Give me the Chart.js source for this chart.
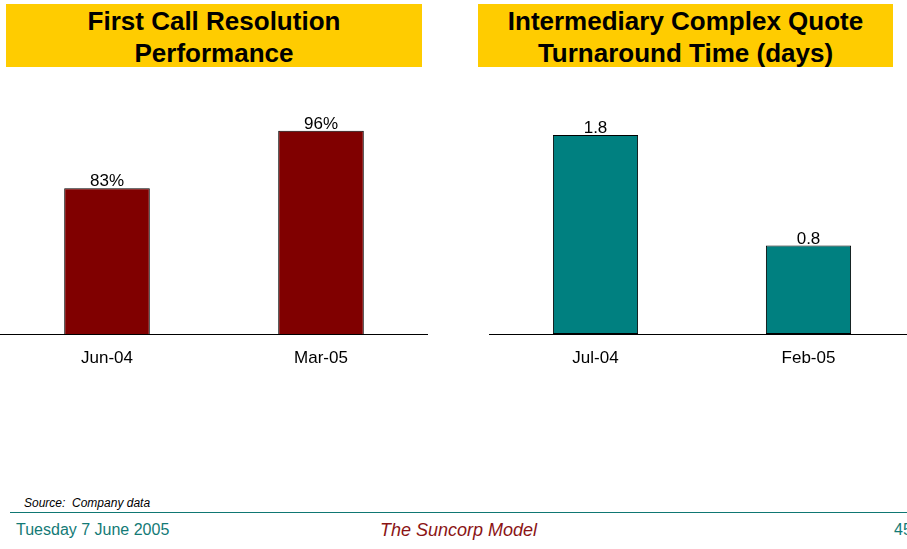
<!DOCTYPE html>
<html>
<head>
<meta charset="utf-8">
<script src="https://cdn.jsdelivr.net/npm/chart.js@4"></script>
<style>
  html, body { margin: 0; padding: 0; width: 907px; height: 549px; overflow: hidden; background: #fff; font-family: "Liberation Sans", Arial, sans-serif; }
  .title { position: absolute; top: 4px; height: 63px; background: #FFCC00; color: #000; font-weight: bold; font-size: 26px; line-height: 32px; text-align: center; padding-top: 1px; box-sizing: border-box; }
  canvas { position: absolute; }
  .txt { position: absolute; white-space: nowrap; }
</style>
</head>
<body>
<div class="title" style="left:6px;width:416px;">First Call Resolution<br>Performance</div>
<div class="title" style="left:478px;width:415px;">Intermediary Complex Quote<br>Turnaround Time (days)</div>

<canvas id="c1" width="428" height="295" style="left:0px;top:100px;"></canvas>
<canvas id="c2" width="426" height="295" style="left:489px;top:100px;"></canvas>

<div class="txt" style="left:24px;top:496px;font-size:12px;font-style:italic;color:#000;">Source:&nbsp; Company data</div>
<div style="position:absolute;left:10px;top:512px;width:897px;height:1px;background:#0f7773;"></div>
<div class="txt" style="left:16px;top:521px;font-size:16px;color:#137a76;">Tuesday 7 June 2005</div>
<div class="txt" style="left:380px;top:520px;font-size:18px;font-style:italic;color:#8b1414;">The Suncorp Model</div>
<div class="txt" style="left:894px;top:521px;font-size:16px;color:#137a76;">45</div>

<script>
// ---- data ----
const fcrCategories = ["Jun-04", "Mar-05"];
const fcrValues = [83, 96];
const fcrLabels = ["83%", "96%"];

const quoteCategories = ["Jul-04", "Feb-05"];
const quoteValues = [1.8, 0.8];
const quoteLabels = ["1.8", "0.8"];

const valueLabelPlugin = {
  id: 'valueLabels',
  afterDatasetsDraw(chart, args, opts) {
    const ctx = chart.ctx;
    const meta = chart.getDatasetMeta(0);
    ctx.save();
    ctx.font = '17px "Liberation Sans", Arial, sans-serif';
    ctx.fillStyle = '#000';
    ctx.textAlign = 'center';
    ctx.textBaseline = 'alphabetic';
    meta.data.forEach((bar, i) => {
      ctx.fillText(opts.labels[i], bar.x, bar.y - 2);
    });
    ctx.restore();
  }
};

function makeChart(id, cats, vals, labels, color, yMin, yMax) {
  return new Chart(document.getElementById(id), {
    type: 'bar',
    data: {
      labels: cats,
      datasets: [{
        data: vals,
        backgroundColor: color,
        borderColor: '#000',
        borderWidth: 1,
        borderSkipped: false,
        barPercentage: 0.4,
        categoryPercentage: 1.0
      }]
    },
    options: {
      responsive: false,
      animation: false,
      layout: { padding: { top: 13, bottom: 12.6, left: 0, right: 0 } },
      plugins: {
        legend: { display: false },
        tooltip: { enabled: false },
        valueLabels: { labels: labels }
      },
      scales: {
        x: {
          grid: { display: false, drawTicks: false },
          border: { display: true, color: '#000', width: 1 },
          ticks: { color: '#000', font: { family: '"Liberation Sans", Arial, sans-serif', size: 17 }, padding: 14 }
        },
        y: { display: false, min: yMin, max: yMax }
      }
    },
    plugins: [valueLabelPlugin]
  });
}

makeChart('c1', fcrCategories, fcrValues, fcrLabels, '#800000', 50, 100);
makeChart('c2', quoteCategories, quoteValues, quoteLabels, '#008080', 0, 2);
</script>
</body>
</html>
